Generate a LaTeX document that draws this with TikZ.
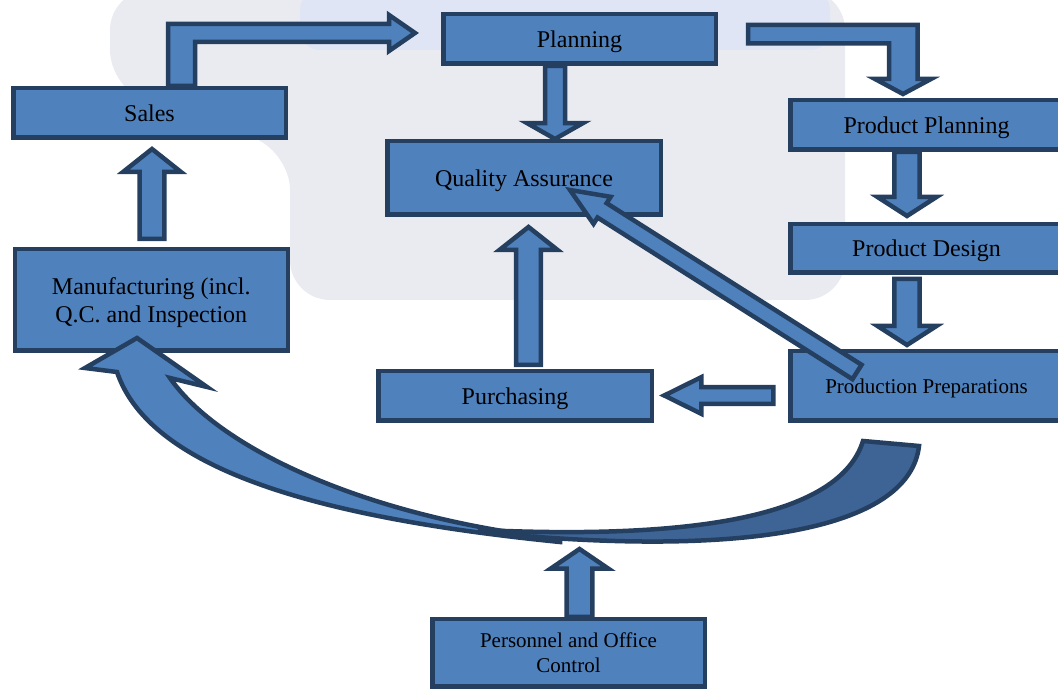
\documentclass[tikz,border=0pt]{standalone}
\usepackage{fontspec}
\setmainfont{Liberation Serif}
\usetikzlibrary{calc}
\definecolor{boxblue}{RGB}{79,129,189}
\definecolor{bdr}{RGB}{36,63,96}
\definecolor{backblue}{RGB}{62,100,150}
\definecolor{wmgray}{RGB}{233,235,241}
\definecolor{wmlav}{RGB}{223,229,245}

% vertical block arrow: start, tip, x, shaft half width, head half width, head length
\newcommand{\vblk}[6]{%
  \draw[blk] let \p1=(#1), \p2=(#2), \p3=($(\p2)!#6pt!(\p1)$) in
    (#3-#4,\y1) -- (#3-#4,\y3) -- (#3-#5,\y3) -- (#3,\y2)
    -- (#3+#5,\y3) -- (#3+#4,\y3) -- (#3+#4,\y1) -- cycle;}

\begin{document}
\begin{tikzpicture}[x=1pt,y=1pt,
    box/.style={draw=bdr,fill=boxblue,line width=4.5pt,inner sep=0pt,align=center,text depth=0pt,
      minimum width=272.5pt,minimum height=49.5pt,font=\fontsize{24}{28}\selectfont},
    small/.style={font=\fontsize{21}{25}\selectfont},
    blk/.style={draw=bdr,fill=boxblue,line width=4.5pt,line join=miter}]
\useasboundingbox (0,0) rectangle (1058,690);
\clip (0,0) rectangle (1058,690);
% faint backdrop
\fill[wmgray,rounded corners=40] (110,700) -- (845,700) -- (845,390) -- (290,390) -- (290,540) -- (110,600) -- cycle;
\fill[wmlav,rounded corners=20] (300,640) rectangle (830,700);

\node[box] (sales) at (149.5,577) {Sales};
\node[box,minimum width=273pt,minimum height=101.5pt] (manuf) at (151.25,390) {Manufacturing (incl.\\Q.C. and Inspection};
\node[box] (planning) at (579.5,651) {Planning};
\node[box,minimum width=273.5pt,minimum height=73.5pt] (qa) at (524,512) {Quality Assurance};
\node[box] (pplan) at (926.5,565) {Product Planning};
\node[box,minimum height=48.5pt] (pdesign) at (926.5,441.5) {Product Design};
\node[box,small,minimum height=69.5pt] (pprep) at (926.5,304) {Production Preparations};
\node[box,minimum width=273.5pt] (purch) at (515,294) {Purchasing};
\node[box,small,minimum height=67.5pt] (pers) at (568.5,37) {Personnel and Office\\Control};

\coordinate (curvebot) at (579.5,141);
\coordinate (qatip) at ($(qa.center)+(46,-12)$);
\coordinate (pptail) at ($(pprep.center)+(-69.5,14)$);

\vblk{$(manuf.north)+(0,8)$}{$(sales.south)+(0,-9)$}{152}{12.3}{29}{23}
\vblk{planning.south}{qa.north}{555}{10}{28}{20}
\vblk{$(purch.north)+(0,4)$}{$(qa.south)+(0,-10)$}{528.5}{12.3}{29}{23}
\vblk{pplan.south}{$(pdesign.north)+(0,6)$}{907}{12.7}{29.5}{19}
\vblk{$(pdesign.south)+(0,-4)$}{$(pprep.north)+(0,4)$}{907}{12.7}{29.5}{19}
\vblk{pers.north}{curvebot}{579.5}{12.8}{29}{20}

\draw[blk] let \p1=(sales.north), \p2=(planning.west) in
  (168,\y1) -- (168,666) -- (\x2-52,666) -- (\x2-52,675) -- (\x2-26,657)
  -- (\x2-52,639) -- (\x2-52,648) -- (195,648) -- (195,\y1) -- cycle;
\draw[blk] let \p1=(planning.east), \p2=(pplan.north) in
  (\x1+30,665) -- (917.5,665) -- (917.5,\y2+19) -- (931,\y2+19) -- (903,\y2+4)
  -- (875,\y2+19) -- (889,\y2+19) -- (889,646.5) -- (\x1+30,646.5) -- cycle;
\draw[blk] let \p1=($(pprep.west)+(-14.75,0)$), \p2=($(purch.east)+(10.25,0)$) in
  (\x1,302.8) -- (\x2+37,302.8) -- (\x2+37,312.8) -- (\x2,294.5)
  -- (\x2+37,276.2) -- (\x2+37,286.2) -- (\x1,286.2) -- cycle;
\draw[blk] (qatip) -- ($(qatip)!38pt!(pptail)!16pt!90:(pptail)$)
  -- ($(qatip)!38pt!(pptail)!8.5pt!90:(pptail)$) -- ($(pptail)!8.5pt!-90:(qatip)$)
  -- ($(pptail)!8.5pt!90:(qatip)$) -- ($(qatip)!38pt!(pptail)!8.5pt!-90:(pptail)$)
  -- ($(qatip)!38pt!(pptail)!16pt!-90:(pptail)$) -- cycle;

% curved arrow back to manufacturing
\draw[blk] (560,148) .. controls (320,172) and (150,220) .. (117,318)
  -- (85,322) -- (137,352) -- (207,303) -- (170,312)
  .. controls (220,240) and (370,172) .. (560,151) -- cycle;
\draw[blk,fill=backblue] (863,249) .. controls (840,175) and (700,150) .. (480,160)
  -- (480,158) .. controls (760,130) and (910,165) .. (919,244) -- cycle;
\end{tikzpicture}
\end{document}
